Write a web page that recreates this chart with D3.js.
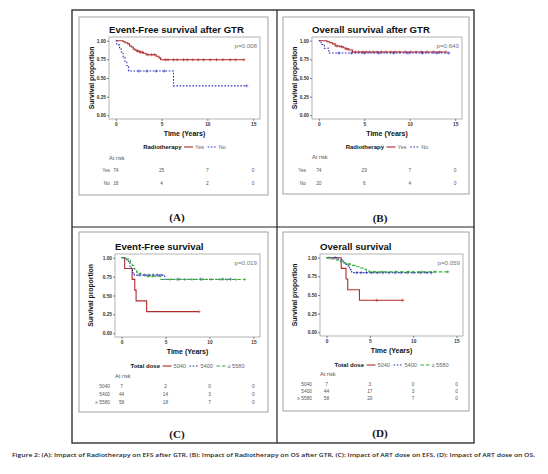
<!DOCTYPE html>
<html>
<head>
<meta charset="utf-8">
<script src="https://cdn.jsdelivr.net/npm/d3@7"></script>
<style>
body { margin: 0; background: #fff; }
svg { display: block; font-family: "Liberation Sans", Arial, sans-serif; }
</style>
</head>
<body>
<svg id="chart" width="548" height="474"></svg>
<script>
// ---- data ----
var timeTicks = [0, 5, 10, 15];
var survTicks = [0, 0.25, 0.5, 0.75, 1];
var survTickLabels = ["0.00", "0.25", "0.50", "0.75", "1.00"];

var titles = ["Event-Free survival after GTR", "Overall survival after GTR", "Event-Free survival", "Overall survival"];
var pValues = ["p=0.008", "p=0.640", "p=0.019", "p=0.059"];
var letters = ["(A)", "(B)", "(C)", "(D)"];
var rtGroups = ["Yes", "No"];
var doseGroups = ["5040", "5400", "\u2265 5580"];

// (A) EFS after GTR
var aYesTime = [0, 0.8, 1.0, 1.3, 1.5, 1.7, 1.9, 2.1, 2.3, 2.6, 3.0, 3.3, 4.4, 4.7, 4.9, 14.0];
var aYesSurv = [1, 0.986, 0.972, 0.958, 0.930, 0.916, 0.888, 0.874, 0.860, 0.846, 0.832, 0.812, 0.792, 0.770, 0.745, 0.745];
var aYesCens = [2.4, 2.7, 2.9, 3.5, 3.9, 4.2, 5.4, 5.7, 6.3, 6.7, 7.4, 7.8, 8.4, 9.0, 9.6, 10.3, 11.0, 11.7, 12.5, 13.1, 14.0];
var aNoTime = [0, 0.1, 0.4, 0.6, 0.8, 1.0, 1.2, 1.4, 6.3, 14.3];
var aNoSurv = [1, 0.944, 0.889, 0.833, 0.778, 0.722, 0.667, 0.593, 0.395, 0.395];
var aNoCens = [2.5, 3.4, 4.4, 5.3, 14.3];
var aRiskYes = [74, 25, 7, 0];
var aRiskNo = [18, 4, 2, 0];

// (B) OS after GTR
var bYesTime = [0, 0.9, 1.2, 1.5, 1.8, 2.3, 2.7, 2.9, 3.3, 3.7, 14.0];
var bYesSurv = [1, 0.986, 0.972, 0.958, 0.930, 0.920, 0.906, 0.891, 0.875, 0.848, 0.848];
var bYesCens = [2.0, 2.5, 3.1, 4.0, 4.4, 4.8, 5.2, 5.6, 6.0, 6.4, 6.9, 7.4, 7.9, 8.4, 8.9, 9.5, 10.1, 10.7, 11.3, 11.9, 12.6, 13.3, 14.0];
var bNoTime = [0, 0.25, 0.6, 1.1, 14.3];
var bNoSurv = [1, 0.95, 0.90, 0.835, 0.835];
var bNoCens = [2.2, 3.6, 5.0, 6.6, 8.2, 9.8, 11.4, 13.0, 14.3];
var bRiskYes = [74, 29, 7, 0];
var bRiskNo = [20, 6, 4, 0];

// (C) EFS by ART dose
var cLowTime = [0, 0.35, 1.2, 1.5, 1.65, 2.85, 8.8];
var cLowSurv = [1, 0.857, 0.714, 0.571, 0.429, 0.286, 0.286];
var cLowCens = [8.8];
var cMidTime = [0, 0.4, 0.6, 0.8, 0.95, 1.1, 1.25, 1.45, 4.9, 12.4];
var cMidSurv = [1, 0.977, 0.955, 0.932, 0.886, 0.841, 0.800, 0.770, 0.716, 0.716];
var cMidCens = [2.0, 2.6, 3.1, 3.6, 4.1, 4.5, 6.5, 9.0, 11.5, 12.4];
var cHighTime = [0, 0.6, 0.8, 1.0, 1.2, 1.35, 1.5, 1.7, 1.9, 2.2, 2.7, 4.4, 14.0];
var cHighSurv = [1, 0.983, 0.966, 0.931, 0.897, 0.862, 0.828, 0.810, 0.793, 0.776, 0.755, 0.712, 0.712];
var cHighCens = [3.0, 3.5, 5.5, 6.3, 7.2, 8.0, 9.2, 10.2, 11.2, 12.0, 13.0, 14.0];
var cRiskLow = [7, 2, 0, 0];
var cRiskMid = [44, 14, 3, 0];
var cRiskHigh = [58, 18, 7, 0];

// (D) OS by ART dose
var dLowTime = [0, 1.7, 2.25, 2.45, 3.8, 8.8];
var dLowSurv = [1, 0.857, 0.714, 0.571, 0.429, 0.429];
var dLowCens = [5.8, 8.8];
var dMidTime = [0, 1.4, 1.8, 2.0, 2.3, 2.5, 2.65, 2.9, 12.1];
var dMidSurv = [1, 0.977, 0.955, 0.932, 0.909, 0.886, 0.841, 0.800, 0.800];
var dMidCens = [1.0, 3.5, 4.0, 4.6, 5.2, 5.9, 6.5, 7.2, 7.9, 8.6, 9.3, 10.0, 10.8, 11.5, 12.1];
var dHighTime = [0, 0.6, 1.2, 1.6, 1.9, 2.2, 3.0, 3.3, 3.9, 4.4, 4.6, 4.9, 14.0];
var dHighSurv = [1, 0.983, 0.966, 0.948, 0.931, 0.914, 0.897, 0.879, 0.862, 0.845, 0.828, 0.810, 0.810];
var dHighCens = [0.3, 2.6, 5.5, 6.5, 8.0, 9.5, 11.0, 12.5, 14.0];
var dRiskLow = [7, 3, 0, 0];
var dRiskMid = [44, 17, 3, 0];
var dRiskHigh = [58, 20, 7, 0];

var caption = "Figure 2: (A): Impact of Radiotherapy on EFS after GTR, (B): Impact of Radiotherapy on OS after GTR, (C): Impact of ART dose on EFS, (D): Impact of ART dose on OS.";

// ---- styles ----
var RED = "#b22a2a", BLUE = "#2f2fc0", GREEN = "#33a833";
var DASH = { solid: null, dot: "1.6,1.6", dash: "3.5,2" };

var svg = d3.select("#chart");

// table frame
svg.append("rect").attr("x", 72).attr("y", 10).attr("width", 402).attr("height", 433)
  .attr("fill", "none").attr("stroke", "#222").attr("stroke-width", 1.3);
svg.append("line").attr("x1", 277).attr("x2", 277).attr("y1", 10).attr("y2", 443)
  .attr("stroke", "#222").attr("stroke-width", 1.2);
svg.append("line").attr("x1", 72).attr("x2", 474).attr("y1", 227).attr("y2", 227)
  .attr("stroke", "#222").attr("stroke-width", 1.2);

var panels = [
  { box: [79, 17, 189, 178], plot: [109, 260, 37, 119], titleY: 29, ylabX: 91,
    legendTitle: "Radiotherapy", groups: rtGroups, legendY: 147, atRiskY: 158, rowY: [170, 183], rowLabelX: 110,
    letterX: 177, letterY: 217,
    series: [
      { t: aYesTime, s: aYesSurv, c: aYesCens, color: RED, dash: "solid", risk: aRiskYes },
      { t: aNoTime, s: aNoSurv, c: aNoCens, color: BLUE, dash: "dot", risk: aRiskNo }
    ] },
  { box: [283, 17, 186, 177], plot: [312, 462, 37, 119], titleY: 29, ylabX: 294,
    legendTitle: "Radiotherapy", groups: rtGroups, legendY: 147, atRiskY: 157, rowY: [170, 183], rowLabelX: 306,
    letterX: 380, letterY: 218,
    series: [
      { t: bYesTime, s: bYesSurv, c: bYesCens, color: RED, dash: "solid", risk: bRiskYes },
      { t: bNoTime, s: bNoSurv, c: bNoCens, color: BLUE, dash: "dot", risk: bRiskNo }
    ] },
  { box: [79, 232, 189, 180], plot: [115, 260, 254, 337], titleY: 246, ylabX: 90,
    legendTitle: "Total dose", groups: doseGroups, legendY: 366, atRiskY: 376, rowY: [386, 394, 402], rowLabelX: 110,
    letterX: 177, letterY: 434,
    series: [
      { t: cLowTime, s: cLowSurv, c: cLowCens, color: RED, dash: "solid", risk: cRiskLow },
      { t: cMidTime, s: cMidSurv, c: cMidCens, color: BLUE, dash: "dot", risk: cRiskMid },
      { t: cHighTime, s: cHighSurv, c: cHighCens, color: GREEN, dash: "dash", risk: cRiskHigh }
    ] },
  { box: [283, 232, 186, 179], plot: [320, 463, 254, 336], titleY: 246, ylabX: 294,
    legendTitle: "Total dose", groups: doseGroups, legendY: 365, atRiskY: 374, rowY: [384, 391, 398], rowLabelX: 312,
    letterX: 380, letterY: 433,
    series: [
      { t: dLowTime, s: dLowSurv, c: dLowCens, color: RED, dash: "solid", risk: dRiskLow },
      { t: dMidTime, s: dMidSurv, c: dMidCens, color: BLUE, dash: "dot", risk: dRiskMid },
      { t: dHighTime, s: dHighSurv, c: dHighCens, color: GREEN, dash: "dash", risk: dRiskHigh }
    ] }
];

// survival value at time tt for a step curve
function survAt(ser, tt) {
  var v = ser.s[0];
  for (var i = 0; i < ser.t.length; i++) {
    if (ser.t[i] <= tt) v = ser.s[i];
  }
  return v;
}

panels.forEach(function(p, pi) {
  var g = svg.append("g");
  var L = p.plot[0], R = p.plot[1], T = p.plot[2], B = p.plot[3];

  g.append("rect").attr("x", p.box[0]).attr("y", p.box[1]).attr("width", p.box[2]).attr("height", p.box[3])
    .attr("fill", "#fff").attr("stroke", "#8a8a8a").attr("stroke-width", 0.8);

  var x = d3.scaleLinear().domain([-0.75, 15.75]).range([L, R]);
  var y = d3.scaleLinear().domain([-0.05, 1.05]).range([B, T]);

  g.append("text").attr("x", L).attr("y", p.titleY).attr("dominant-baseline", "central")
    .attr("font-size", 9.6).attr("font-weight", "bold").attr("fill", "#111").text(titles[pi]);

  g.append("rect").attr("x", L).attr("y", T).attr("width", R - L).attr("height", B - T)
    .attr("fill", "#fff").attr("stroke", "#a0a0a0").attr("stroke-width", 0.8);

  // axes
  var xa = g.append("g").attr("transform", "translate(0," + B + ")")
    .call(d3.axisBottom(x).tickValues(timeTicks).tickSize(2).tickPadding(1.5).tickFormat(d3.format("d")));
  var ya = g.append("g").attr("transform", "translate(" + L + ",0)")
    .call(d3.axisLeft(y).tickValues(survTicks).tickSize(2).tickPadding(1)
      .tickFormat(function(d, i) { return survTickLabels[i]; }));
  [xa, ya].forEach(function(a) {
    a.select(".domain").remove();
    a.selectAll("line").attr("stroke", "#333").attr("stroke-width", 0.6);
    a.selectAll("text").attr("font-size", 4.8).attr("font-weight", "bold").attr("fill", "#333")
      .attr("font-family", "Liberation Sans, Arial, sans-serif");
  });

  g.append("text").attr("x", (L + R) / 2).attr("y", B + 14).attr("text-anchor", "middle")
    .attr("dominant-baseline", "central").attr("font-size", 7).attr("font-weight", "bold").attr("fill", "#111")
    .text("Time (Years)");
  g.append("text").attr("transform", "translate(" + p.ylabX + "," + (T + B) / 2 + ") rotate(-90)")
    .attr("text-anchor", "middle").attr("dominant-baseline", "central")
    .attr("font-size", 6.8).attr("font-weight", "bold").attr("fill", "#111").text("Survival proportion");

  // curves
  var line = d3.line().x(function(d) { return x(d[0]); }).y(function(d) { return y(d[1]); }).curve(d3.curveStepAfter);
  p.series.forEach(function(ser) {
    var pts = ser.t.map(function(tt, i) { return [tt, ser.s[i]]; });
    g.append("path").datum(pts).attr("d", line).attr("fill", "none")
      .attr("stroke", ser.color).attr("stroke-width", 1.1).attr("stroke-dasharray", DASH[ser.dash]);
    g.selectAll(null).data(ser.c).enter().append("path")
      .attr("d", function(c) {
        var cx = x(c), cy = y(survAt(ser, c));
        return "M" + (cx - 1.6) + "," + cy + "H" + (cx + 1.6) + "M" + cx + "," + (cy - 1.6) + "V" + (cy + 1.6);
      })
      .attr("stroke", ser.color).attr("stroke-width", 0.6).attr("fill", "none");
  });

  g.append("text").attr("x", R - 3).attr("y", T + 8).attr("text-anchor", "end").attr("dominant-baseline", "central")
    .attr("font-size", 6.2).attr("fill", "#777").text(pValues[pi]);

  // legend
  var lg = g.append("g");
  var lt = lg.append("text").attr("x", 0).attr("y", 0).attr("dominant-baseline", "central")
    .attr("font-size", 6).attr("font-weight", "bold").attr("fill", "#111").text(p.legendTitle);
  var cx = lt.node().getComputedTextLength() + 2.5;
  p.series.forEach(function(ser, i) {
    lg.append("line").attr("x1", cx).attr("x2", cx + 9).attr("y1", 0).attr("y2", 0)
      .attr("stroke", ser.color).attr("stroke-width", 1.1).attr("stroke-dasharray", DASH[ser.dash]);
    cx += 11;
    var tx = lg.append("text").attr("x", cx).attr("y", 0).attr("dominant-baseline", "central")
      .attr("font-size", 5.6).attr("fill", "#666").text(p.groups[i]);
    cx += tx.node().getComputedTextLength() + 3.5;
  });
  cx -= 3.5;
  lg.attr("transform", "translate(" + ((L + R) / 2 - cx / 2) + "," + p.legendY + ")");

  // risk table
  g.append("text").attr("x", L).attr("y", p.atRiskY).attr("dominant-baseline", "central")
    .attr("font-size", 5.6).attr("fill", "#555").text("At risk");
  p.series.forEach(function(ser, i) {
    g.append("text").attr("x", p.rowLabelX).attr("y", p.rowY[i]).attr("text-anchor", "end")
      .attr("dominant-baseline", "central").attr("font-size", 4.8).attr("fill", "#555").text(p.groups[i]);
    g.selectAll(null).data(ser.risk).enter().append("text")
      .attr("x", function(d, k) { return x(timeTicks[k]); })
      .attr("y", p.rowY[i]).attr("text-anchor", "middle").attr("dominant-baseline", "central")
      .attr("font-size", 4.8).attr("fill", "#555").text(function(d) { return d; });
  });

  g.append("text").attr("x", p.letterX).attr("y", p.letterY).attr("text-anchor", "middle")
    .attr("dominant-baseline", "central").attr("font-family", "Liberation Serif, Times New Roman, serif")
    .attr("font-size", 11).attr("font-weight", "bold").attr("fill", "#111").text(letters[pi]);
});

svg.append("text").attr("x", 12).attr("y", 455).attr("dominant-baseline", "central")
  .attr("font-family", "Open Sans, sans-serif").attr("font-weight", 600).attr("font-size", 6)
  .attr("textLength", 523).attr("lengthAdjust", "spacingAndGlyphs").attr("fill", "#1d1d2b").text(caption);
</script>
</body>
</html>
